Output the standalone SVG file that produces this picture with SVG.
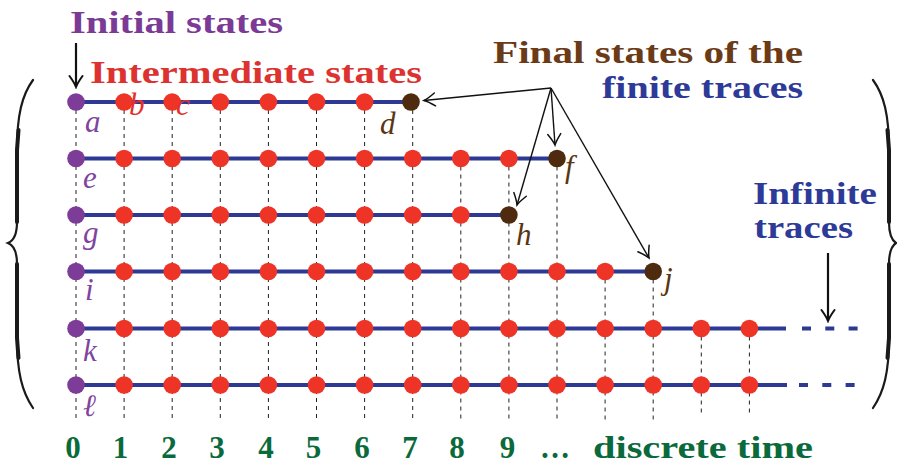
<svg xmlns="http://www.w3.org/2000/svg" width="897" height="467" viewBox="0 0 897 467">
<style>
.title{font-family:"Liberation Serif",serif;font-weight:bold;font-size:32px}
.lab{font-family:"Liberation Serif",serif;font-style:italic;font-size:31px}
.ax{font-family:"Liberation Serif",serif;font-weight:bold;font-size:31px;fill:#0b6a3c}
.pu{fill:#7d3c98}.re{fill:#ee3426}.br{fill:#4e2b0e}
.lpu{fill:#8044a0}.lre{fill:#e2312b}.lbr{fill:#5a3512}
.trace{stroke:#2d3994;stroke-width:4.2;fill:none}
.guide{stroke:#222;stroke-width:1;stroke-dasharray:4 4;fill:none}
.arr{stroke:#111;stroke-width:1.4;fill:none;marker-end:url(#ah)}
.arr2{stroke:#111;stroke-width:2.2;fill:none;marker-end:url(#ah2)}
.brace{stroke:#1a1a1a;fill:none;stroke-linecap:round}
</style>
<defs>
<marker id="ah" markerUnits="userSpaceOnUse" viewBox="-13 -8 15 16" markerWidth="15" markerHeight="16" refX="0" refY="0" orient="auto">
<path d="M-11,-6.5 Q-4,-1.5 0,0 Q-4,1.5 -11,6.5" stroke="#111" stroke-width="1.5" fill="none" stroke-linecap="round"/>
</marker>
<marker id="ah2" markerUnits="userSpaceOnUse" viewBox="-13 -8 15 16" markerWidth="15" markerHeight="16" refX="0" refY="0" orient="auto">
<path d="M-11,-6.5 Q-4,-1.5 0,0 Q-4,1.5 -11,6.5" stroke="#111" stroke-width="2" fill="none" stroke-linecap="round"/>
</marker>
</defs>
<rect width="897" height="467" fill="#fff"/>

<!-- braces -->
<g id="braces">
<path class="brace" stroke-width="2.2" d="M33,80 C22,95 17,115 17,150 L17,222 C17,235 13,241 8,243 C13,245 17,251 17,264 L17,338 C17,372 22,392 33,408"/>
<path class="brace" stroke-width="4" d="M18.5,130 L17,150 L17,222 M17,264 L17,338 L18.5,358"/>
<path class="brace" stroke-width="2.2" d="M873,80 C884,95 889,115 889,150 L889,222 C889,235 893,241 896,243 C893,245 889,251 889,264 L889,338 C889,372 884,392 873,408"/>
<path class="brace" stroke-width="4" d="M887.5,130 L889,150 L889,222 M889,264 L889,338 L887.5,358"/>
</g>

<!-- guides -->
<g id="guides" class="guide">
<path d="M76,102 V420 M124.1,102 V420 M172.2,102 V420 M220.3,102 V420 M268.4,102 V420 M316.5,102 V420 M364.6,102 V420 M412.7,102 V420"/>
<path d="M460.8,158.5 V420 M508.9,158.5 V420 M557,158.5 V420"/>
<path d="M605.1,271.5 V420 M653.2,271.5 V420"/>
<path d="M701.3,328.5 V416 M749.4,328.5 V416"/>
</g>

<!-- connectors -->
<g id="connectors">
<path class="trace" d="M76,102 H411"/>
<path class="trace" d="M76,158.5 H557"/>
<path class="trace" d="M76,215 H508.9"/>
<path class="trace" d="M76,271.5 H653.2"/>
<path class="trace" d="M76,328.5 H786"/>
<path class="trace" d="M76,385 H787"/>
<path class="trace" stroke-dasharray="9 14.3" d="M802,328.5 H858"/>
<path class="trace" stroke-dasharray="9 14.3" d="M799,385 H855"/>
<path class="arr2" d="M76,43 V87"/>
<path class="arr" d="M551,88 L424,100.5"/>
<path class="arr" d="M551,88 L555,145"/>
<path class="arr" d="M551,88 L517,205"/>
<path class="arr" d="M551,88 L649,258"/>
<path class="arr2" d="M828,253 V321"/>
</g>

<!-- row 1 -->
<g id="n-a"><circle class="pu" cx="76" cy="102" r="8.8"/><text class="lab lpu" x="85" y="132">a</text></g>
<g id="n-b"><circle class="re" cx="124.1" cy="102" r="8.8"/><text class="lab lre" x="129" y="115" font-size="29">b</text></g>
<g id="n-c"><circle class="re" cx="172.2" cy="102" r="8.8"/><text class="lab lre" x="176" y="115" font-size="29">c</text></g>
<g id="n-r1c3"><circle class="re" cx="220.3" cy="102" r="8.8"/></g>
<g id="n-r1c4"><circle class="re" cx="268.4" cy="102" r="8.8"/></g>
<g id="n-r1c5"><circle class="re" cx="316.5" cy="102" r="8.8"/></g>
<g id="n-r1c6"><circle class="re" cx="364.6" cy="102" r="8.8"/></g>
<g id="n-d"><circle class="br" cx="411" cy="102" r="8.8"/><text class="lab lbr" x="380" y="134">d</text></g>

<!-- row 2 -->
<g id="n-e"><circle class="pu" cx="76" cy="158.5" r="8.8"/><text class="lab lpu" x="83" y="188">e</text></g>
<g id="n-r2c1"><circle class="re" cx="124.1" cy="158.5" r="8.8"/></g>
<g id="n-r2c2"><circle class="re" cx="172.2" cy="158.5" r="8.8"/></g>
<g id="n-r2c3"><circle class="re" cx="220.3" cy="158.5" r="8.8"/></g>
<g id="n-r2c4"><circle class="re" cx="268.4" cy="158.5" r="8.8"/></g>
<g id="n-r2c5"><circle class="re" cx="316.5" cy="158.5" r="8.8"/></g>
<g id="n-r2c6"><circle class="re" cx="364.6" cy="158.5" r="8.8"/></g>
<g id="n-r2c7"><circle class="re" cx="412.7" cy="158.5" r="8.8"/></g>
<g id="n-r2c8"><circle class="re" cx="460.8" cy="158.5" r="8.8"/></g>
<g id="n-r2c9"><circle class="re" cx="508.9" cy="158.5" r="8.8"/></g>
<g id="n-f"><circle class="br" cx="557" cy="158.5" r="8.8"/><text class="lab lbr" x="565" y="177">f</text></g>

<!-- row 3 -->
<g id="n-g"><circle class="pu" cx="76" cy="215" r="8.8"/><text class="lab lpu" x="83" y="243">g</text></g>
<g id="n-r3c1"><circle class="re" cx="124.1" cy="215" r="8.8"/></g>
<g id="n-r3c2"><circle class="re" cx="172.2" cy="215" r="8.8"/></g>
<g id="n-r3c3"><circle class="re" cx="220.3" cy="215" r="8.8"/></g>
<g id="n-r3c4"><circle class="re" cx="268.4" cy="215" r="8.8"/></g>
<g id="n-r3c5"><circle class="re" cx="316.5" cy="215" r="8.8"/></g>
<g id="n-r3c6"><circle class="re" cx="364.6" cy="215" r="8.8"/></g>
<g id="n-r3c7"><circle class="re" cx="412.7" cy="215" r="8.8"/></g>
<g id="n-r3c8"><circle class="re" cx="460.8" cy="215" r="8.8"/></g>
<g id="n-h"><circle class="br" cx="508.9" cy="215" r="8.8"/><text class="lab lbr" x="516" y="245">h</text></g>

<!-- row 4 -->
<g id="n-i"><circle class="pu" cx="76" cy="271.5" r="8.8"/><text class="lab lpu" x="85" y="300">i</text></g>
<g id="n-r4c1"><circle class="re" cx="124.1" cy="271.5" r="8.8"/></g>
<g id="n-r4c2"><circle class="re" cx="172.2" cy="271.5" r="8.8"/></g>
<g id="n-r4c3"><circle class="re" cx="220.3" cy="271.5" r="8.8"/></g>
<g id="n-r4c4"><circle class="re" cx="268.4" cy="271.5" r="8.8"/></g>
<g id="n-r4c5"><circle class="re" cx="316.5" cy="271.5" r="8.8"/></g>
<g id="n-r4c6"><circle class="re" cx="364.6" cy="271.5" r="8.8"/></g>
<g id="n-r4c7"><circle class="re" cx="412.7" cy="271.5" r="8.8"/></g>
<g id="n-r4c8"><circle class="re" cx="460.8" cy="271.5" r="8.8"/></g>
<g id="n-r4c9"><circle class="re" cx="508.9" cy="271.5" r="8.8"/></g>
<g id="n-r4c10"><circle class="re" cx="557" cy="271.5" r="8.8"/></g>
<g id="n-r4c11"><circle class="re" cx="605.1" cy="271.5" r="8.8"/></g>
<g id="n-j"><circle class="br" cx="653.2" cy="271.5" r="8.8"/><text class="lab lbr" x="664" y="289">j</text></g>

<!-- row 5 -->
<g id="n-k"><circle class="pu" cx="76" cy="328.5" r="8.8"/><text class="lab lpu" x="83" y="361">k</text></g>
<g id="n-r5c1"><circle class="re" cx="124.1" cy="328.5" r="8.8"/></g>
<g id="n-r5c2"><circle class="re" cx="172.2" cy="328.5" r="8.8"/></g>
<g id="n-r5c3"><circle class="re" cx="220.3" cy="328.5" r="8.8"/></g>
<g id="n-r5c4"><circle class="re" cx="268.4" cy="328.5" r="8.8"/></g>
<g id="n-r5c5"><circle class="re" cx="316.5" cy="328.5" r="8.8"/></g>
<g id="n-r5c6"><circle class="re" cx="364.6" cy="328.5" r="8.8"/></g>
<g id="n-r5c7"><circle class="re" cx="412.7" cy="328.5" r="8.8"/></g>
<g id="n-r5c8"><circle class="re" cx="460.8" cy="328.5" r="8.8"/></g>
<g id="n-r5c9"><circle class="re" cx="508.9" cy="328.5" r="8.8"/></g>
<g id="n-r5c10"><circle class="re" cx="557" cy="328.5" r="8.8"/></g>
<g id="n-r5c11"><circle class="re" cx="605.1" cy="328.5" r="8.8"/></g>
<g id="n-r5c12"><circle class="re" cx="653.2" cy="328.5" r="8.8"/></g>
<g id="n-r5c13"><circle class="re" cx="701.3" cy="328.5" r="8.8"/></g>
<g id="n-r5c14"><circle class="re" cx="749.4" cy="328.5" r="8.8"/></g>

<!-- row 6 -->
<g id="n-l"><circle class="pu" cx="76" cy="385" r="8.8"/><text class="lab lpu" x="83" y="416">ℓ</text></g>
<g id="n-r6c1"><circle class="re" cx="124.1" cy="385" r="8.8"/></g>
<g id="n-r6c2"><circle class="re" cx="172.2" cy="385" r="8.8"/></g>
<g id="n-r6c3"><circle class="re" cx="220.3" cy="385" r="8.8"/></g>
<g id="n-r6c4"><circle class="re" cx="268.4" cy="385" r="8.8"/></g>
<g id="n-r6c5"><circle class="re" cx="316.5" cy="385" r="8.8"/></g>
<g id="n-r6c6"><circle class="re" cx="364.6" cy="385" r="8.8"/></g>
<g id="n-r6c7"><circle class="re" cx="412.7" cy="385" r="8.8"/></g>
<g id="n-r6c8"><circle class="re" cx="460.8" cy="385" r="8.8"/></g>
<g id="n-r6c9"><circle class="re" cx="508.9" cy="385" r="8.8"/></g>
<g id="n-r6c10"><circle class="re" cx="557" cy="385" r="8.8"/></g>
<g id="n-r6c11"><circle class="re" cx="605.1" cy="385" r="8.8"/></g>
<g id="n-r6c12"><circle class="re" cx="653.2" cy="385" r="8.8"/></g>
<g id="n-r6c13"><circle class="re" cx="701.3" cy="385" r="8.8"/></g>
<g id="n-r6c14"><circle class="re" cx="749.4" cy="385" r="8.8"/></g>

<!-- titles -->
<g id="titles">
<text class="title" x="70" y="33" fill="#7b3a96" textLength="213" lengthAdjust="spacingAndGlyphs">Initial states</text>
<text class="title" x="90" y="83" fill="#dc3230" font-size="31" textLength="332" lengthAdjust="spacingAndGlyphs">Intermediate states</text>
<text class="title" x="493" y="63" fill="#6b3b17" textLength="310" lengthAdjust="spacingAndGlyphs">Final states of the</text>
<text class="title" x="602" y="98" fill="#2e3a97" textLength="201" lengthAdjust="spacingAndGlyphs">finite traces</text>
<text class="title" x="753" y="204" fill="#2e3a97" textLength="124" lengthAdjust="spacingAndGlyphs">Infinite</text>
<text class="title" x="754" y="238" fill="#2e3a97" textLength="99" lengthAdjust="spacingAndGlyphs">traces</text>
</g>

<!-- axis -->
<g id="axis" text-anchor="middle">
<text class="ax" x="73" y="458">0</text>
<text class="ax" x="120.5" y="458">1</text>
<text class="ax" x="169" y="458">2</text>
<text class="ax" x="217" y="458">3</text>
<text class="ax" x="266" y="458">4</text>
<text class="ax" x="313.5" y="458">5</text>
<text class="ax" x="362" y="458">6</text>
<text class="ax" x="410" y="458">7</text>
<text class="ax" x="457" y="458">8</text>
<text class="ax" x="507.5" y="458">9</text>
<text class="ax" x="555" y="458" textLength="30" lengthAdjust="spacingAndGlyphs">…</text>
<text class="ax" x="703" y="458" textLength="220" lengthAdjust="spacingAndGlyphs">discrete time</text>
</g>
</svg>
